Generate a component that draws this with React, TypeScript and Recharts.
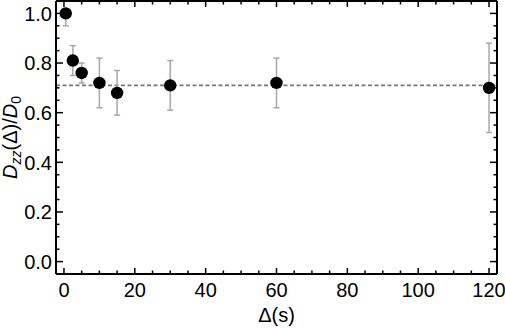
import React from 'react';
import { ScatterChart, Scatter, XAxis, YAxis, ErrorBar, ReferenceLine } from 'recharts';

// lag times (s), normalised diffusion coefficient and its error (below, above)
const lags = [0.5, 2.5, 5, 10, 15, 30, 60, 120];
const ratios = [1.0, 0.81, 0.76, 0.72, 0.68, 0.71, 0.72, 0.70];
const errLow = [0.05, 0.06, 0.04, 0.10, 0.09, 0.10, 0.10, 0.18];
const errHigh = [0.0, 0.06, 0.04, 0.10, 0.09, 0.10, 0.10, 0.18];
const plateau = 0.71;

const xTicks = [0, 5, 10, 15, 20, 25, 30, 35, 40, 45, 50, 55, 60, 65, 70, 75, 80, 85, 90, 95, 100, 105, 110, 115, 120];
const xMajor = [0, 20, 40, 60, 80, 100, 120];
const yTicks = [0, 0.05, 0.1, 0.15, 0.2, 0.25, 0.3, 0.35, 0.4, 0.45, 0.5, 0.55, 0.6, 0.65, 0.7, 0.75, 0.8, 0.85, 0.9, 0.95, 1.0];
const yMajor = [0, 0.2, 0.4, 0.6, 0.8, 1.0];

const data = lags.map((x, i) => ({ x, y: ratios[i], err: [errLow[i], errHigh[i]] }));

const FONT = '"Liberation Sans", Arial, sans-serif';
const FS = 20;
const MAJOR = 6;
const MINOR = 3.5;

const isMajorX = (v: number) => xMajor.includes(v);
const isMajorY = (v: number) => yMajor.some((m) => Math.abs(m - v) < 1e-6);

const BottomTick = (props: any) => {
  const { x, y, payload } = props;
  const major = isMajorX(payload.value);
  return (
    <g>
      <line x1={x} x2={x} y1={y} y2={y - (major ? MAJOR : MINOR)} stroke="#000" strokeWidth={1.5} />
      {major && (
        <text x={x} y={y + 23} textAnchor="middle" fontFamily={FONT} fontSize={FS} fill="#000">
          {payload.value}
        </text>
      )}
    </g>
  );
};

const TopTick = (props: any) => {
  const { x, y, payload } = props;
  const major = isMajorX(payload.value);
  return <line x1={x} x2={x} y1={y} y2={y + (major ? MAJOR : MINOR)} stroke="#000" strokeWidth={1.5} />;
};

const LeftTick = (props: any) => {
  const { x, y, payload } = props;
  const major = isMajorY(payload.value);
  return (
    <g>
      <line x1={x} x2={x + (major ? MAJOR + 1 : MINOR)} y1={y} y2={y} stroke="#000" strokeWidth={1.5} />
      {major && (
        <text x={x - 4} y={y + 7.2} textAnchor="end" fontFamily={FONT} fontSize={FS} fill="#000">
          {payload.value.toFixed(1)}
        </text>
      )}
    </g>
  );
};

const RightTick = (props: any) => {
  const { x, y, payload } = props;
  const major = isMajorY(payload.value);
  return <line x1={x} x2={x - (major ? MAJOR + 1 : MINOR)} y1={y} y2={y} stroke="#000" strokeWidth={1.5} />;
};

const YTitle = (props: any) => {
  const { viewBox } = props;
  const cx = 17;
  const cy = viewBox.y + viewBox.height / 2;
  return (
    <text
      x={cx}
      y={cy}
      transform={`rotate(-90, ${cx}, ${cy})`}
      textAnchor="middle"
      fontFamily={FONT}
      fontSize={FS}
      fill="#000"
    >
      <tspan fontStyle="italic">D</tspan>
      <tspan fontStyle="italic" fontSize={14} dy={4}>zz</tspan>
      <tspan dy={-4}>(Δ)/</tspan>
      <tspan fontStyle="italic">D</tspan>
      <tspan fontSize={14} dy={4}>0</tspan>
    </text>
  );
};

const XTitle = (props: any) => {
  const { viewBox } = props;
  return (
    <text x={viewBox.x + viewBox.width / 2} y={322} textAnchor="middle" fontFamily={FONT} fontSize={FS} fill="#000">
      Δ(s)
    </text>
  );
};

const Dot = (props: any) => <circle cx={props.cx} cy={props.cy} r={6.2} fill="#000" />;
const NoDot = () => <g />;

export default function App() {
  const axisLine = { stroke: '#000', strokeWidth: 2 };
  return (
    <div style={{ position: 'absolute', left: 0, top: 0, width: 505, height: 328, background: '#fff' }}>
      <ScatterChart width={505} height={328} margin={{ top: 0, right: 7, bottom: 0, left: 0 }}>
        <XAxis
          xAxisId="b"
          type="number"
          dataKey="x"
          domain={[-2.25, 122.25]}
          ticks={xTicks}
          interval={0}
          allowDataOverflow
          height={54}
          axisLine={axisLine}
          tickLine={false}
          tickSize={0}
          tickMargin={0}
          tick={<BottomTick />}
          label={{ content: <XTitle /> }}
        />
        <XAxis
          xAxisId="t"
          orientation="top"
          type="number"
          dataKey="x"
          domain={[-2.25, 122.25]}
          ticks={xTicks}
          interval={0}
          allowDataOverflow
          height={1}
          axisLine={axisLine}
          tickLine={false}
          tickSize={0}
          tickMargin={0}
          tick={<TopTick />}
        />
        <YAxis
          yAxisId="l"
          type="number"
          dataKey="y"
          domain={[-0.05, 1.05]}
          ticks={yTicks}
          interval={0}
          allowDataOverflow
          width={56}
          axisLine={axisLine}
          tickLine={false}
          tickSize={0}
          tickMargin={0}
          tick={<LeftTick />}
          label={{ content: <YTitle /> }}
        />
        <YAxis
          yAxisId="r"
          orientation="right"
          type="number"
          dataKey="y"
          domain={[-0.05, 1.05]}
          ticks={yTicks}
          interval={0}
          allowDataOverflow
          width={1}
          axisLine={axisLine}
          tickLine={false}
          tickSize={0}
          tickMargin={0}
          tick={<RightTick />}
        />
        <ReferenceLine
          xAxisId="b"
          yAxisId="l"
          y={plateau}
          stroke="#777"
          strokeWidth={1.6}
          strokeDasharray="4 2.5"
        />
        {/* error bars only */}
        <Scatter xAxisId="b" yAxisId="l" data={data} shape={<NoDot />} isAnimationActive={false}>
          <ErrorBar dataKey="err" direction="y" width={3} stroke="#a8a8a8" strokeWidth={1.5} isAnimationActive={false} />
        </Scatter>
        {/* markers drawn over the bars; also binds the mirrored frame axes */}
        <Scatter xAxisId="t" yAxisId="r" data={data} shape={<Dot />} isAnimationActive={false} />
      </ScatterChart>
    </div>
  );
}
